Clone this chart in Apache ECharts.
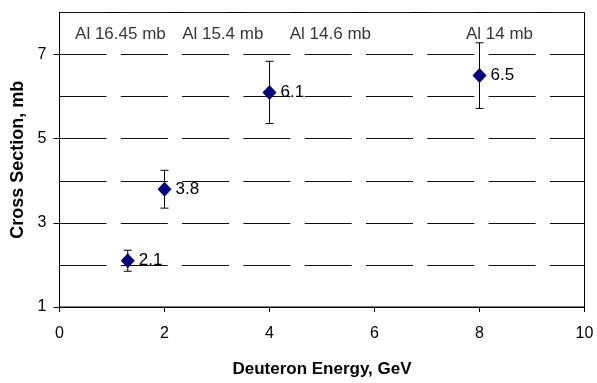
<!DOCTYPE html>
<html><head><meta charset="utf-8">
<script src="https://cdn.jsdelivr.net/npm/echarts@6/dist/echarts.min.js"></script>
<style>html,body{margin:0;padding:0;background:#fff}#c{width:597px;height:383px}</style>
</head><body><div id="c"></div>
<script>
const energies = [1.3, 2, 4, 8];
const crossSections = [2.1, 3.8, 6.1, 6.5];
const errors = [0.25, 0.45, 0.74, 0.78];
const pointLabels = ['2.1', '3.8', '6.1', '6.5'];
const noteTexts = ['Al 16.45 mb', 'Al 15.4 mb', 'Al 14.6 mb', 'Al 14 mb'];
const noteX = [1.16, 3.11, 5.16, 8.38];
const noteY = [7.47, 7.47, 7.47, 7.47];
const xTicks = [0, 2, 4, 6, 8, 10];
const yTicks = [1, 3, 5, 7];

const FONT = '"Liberation Sans", Arial, sans-serif';
const chart = echarts.init(document.getElementById('c'), null, {renderer: 'canvas'});
const pts = energies.map((x, i) => [x, crossSections[i]]);
const errData = energies.map((x, i) => [x, crossSections[i] - errors[i], crossSections[i] + errors[i]]);

chart.setOption({
  animation: false,
  grid: {left: 59.5, right: 12.5, top: 12.5, bottom: 74, show: true, borderColor: '#000', borderWidth: 1, backgroundColor: 'transparent'},
  xAxis: {
    type: 'value', min: 0, max: 10, interval: 2,
    name: 'Deuteron Energy, GeV', nameLocation: 'middle', nameGap: 54,
    nameTextStyle: {fontFamily: FONT, fontWeight: 'bold', fontSize: 17, color: '#000'},
    axisLine: {lineStyle: {color: '#000', width: 1}},
    axisTick: {show: true, inside: false, length: 5, lineStyle: {color: '#000'}},
    axisLabel: {fontFamily: FONT, fontSize: 16, color: '#000', margin: 19, formatter: v => xTicks.includes(v) ? String(v) : ''},
    splitLine: {show: false}
  },
  yAxis: [{
    type: 'value', min: 1, max: 8, interval: 1,
    name: 'Cross Section, mb', nameLocation: 'middle', nameGap: 32,
    nameTextStyle: {fontFamily: FONT, fontWeight: 'bold', fontSize: 18, color: '#000'},
    axisLine: {lineStyle: {color: '#000', width: 1}},
    axisTick: {show: true, length: 6, lineStyle: {color: '#000'}, customValues: yTicks},
    axisLabel: {fontFamily: FONT, fontSize: 16, color: '#000', margin: 13, customValues: yTicks, formatter: v => String(v)},
    splitLine: {show: false}
  }, {
    type: 'value', min: 1, max: 8, interval: 1, position: 'left',
    axisLine: {show: false}, axisTick: {show: false}, axisLabel: {show: false},
    splitLine: {show: true, lineStyle: {color: '#111', width: 1, type: [47, 14.3]}}
  }],
  series: [
    {
      type: 'custom',
      data: errData,
      z: 3,
      renderItem: function (params, api) {
        const x = api.value(0);
        const lo = api.coord([x, api.value(1)]);
        const hi = api.coord([x, api.value(2)]);
        const cap = 4;
        const st = {stroke: '#000', lineWidth: 1};
        return {type: 'group', children: [
          {type: 'line', shape: {x1: lo[0], y1: lo[1], x2: hi[0], y2: hi[1]}, style: st},
          {type: 'line', shape: {x1: lo[0] - cap, y1: lo[1], x2: lo[0] + cap, y2: lo[1]}, style: st},
          {type: 'line', shape: {x1: hi[0] - cap, y1: hi[1], x2: hi[0] + cap, y2: hi[1]}, style: st}
        ]};
      }
    },
    {
      type: 'scatter',
      data: pts,
      symbol: 'diamond', symbolSize: [14, 15],
      z: 4,
      itemStyle: {color: '#000080', opacity: 1},
      label: {show: true, position: 'right', distance: 4, fontFamily: FONT, fontSize: 17, color: '#000', textBorderWidth: 0,
        formatter: p => pointLabels[p.dataIndex]}
    },
    {
      type: 'scatter',
      data: noteX.map((x, i) => [x, noteY[i]]),
      symbolSize: 0, silent: true,
      label: {show: true, position: 'inside', fontFamily: FONT, fontSize: 17, color: '#000', textBorderWidth: 0,
        formatter: p => noteTexts[p.dataIndex]}
    }
  ]
});
</script></body></html>
